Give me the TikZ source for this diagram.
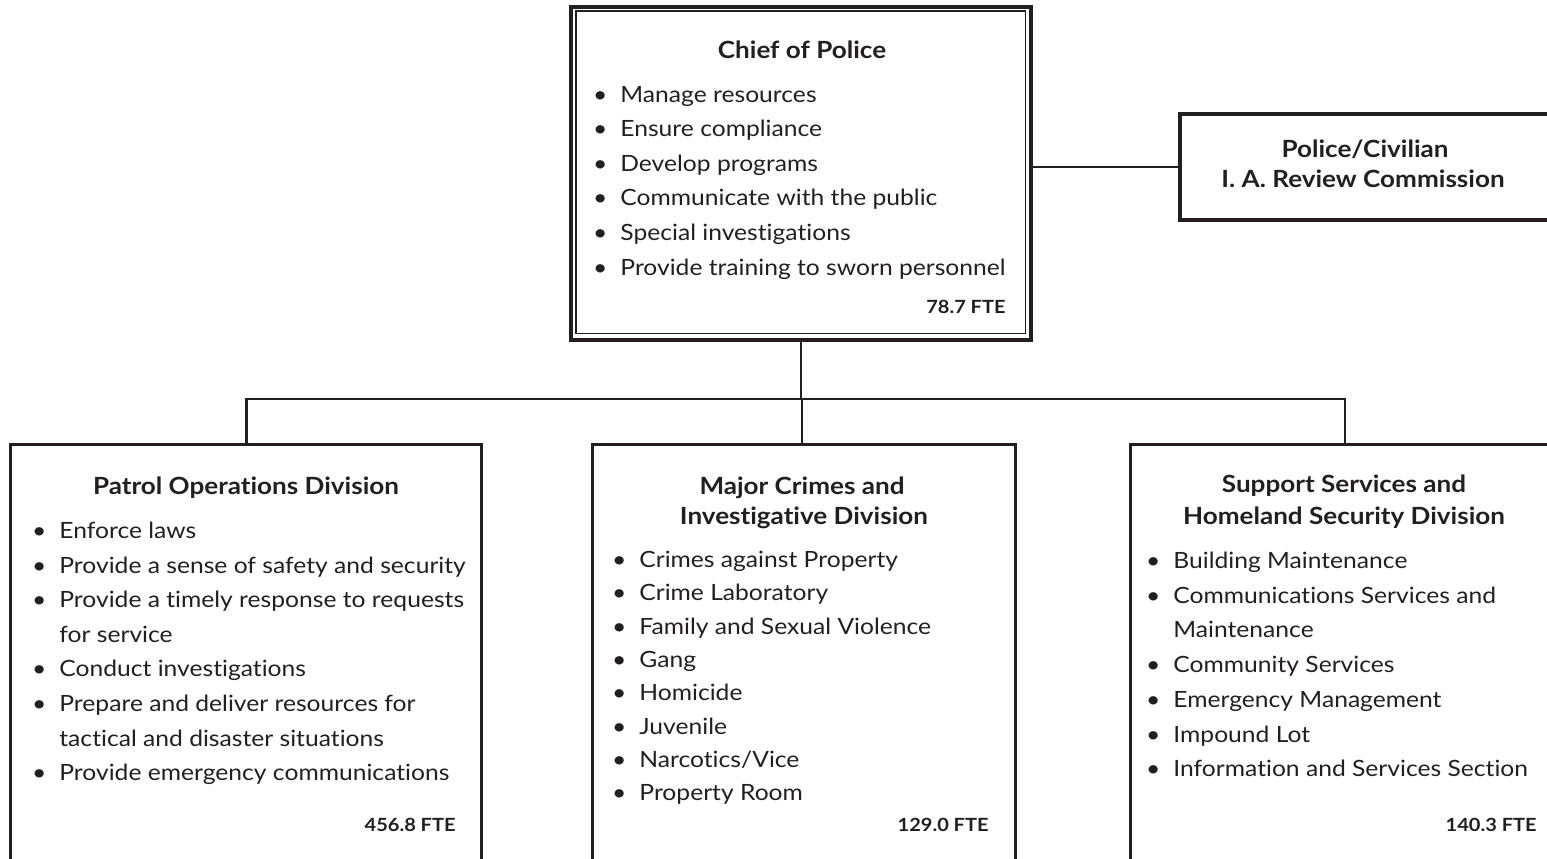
\documentclass[tikz,border=0pt]{standalone}
\usepackage{fontspec}
\setmainfont{Lato}[FakeStretch=1.1,Ligatures=NoCommon]
\definecolor{ink}{RGB}{35,31,32}
\newcommand\bul{\llap{\textbullet\hspace{6.5pt}}}
\newcommand\bodylines[5]{%
  \foreach \txt [count=\i] in {#5}{%
    \node[body,anchor=base west] (#1-\i) at (#2,{#3+#4*(\i-1)}) {\txt};}}
\begin{document}
\begin{tikzpicture}[x=0.5pt,y=-0.5pt,
  body/.style={font=\fontsize{11.2}{13}\selectfont,inner sep=0pt,text=ink},
  ttl/.style={font=\fontsize{11.85}{13}\selectfont\bfseries,inner sep=0pt,text=ink,anchor=base},
  fte/.style={font=\fontsize{9.1}{11}\selectfont\bfseries,inner sep=0pt,text=ink,anchor=base east},
  frame/.style={draw=ink,inner sep=0pt,outer sep=0pt,anchor=north west},
  chiefbox/.style={frame,line width=2pt},
  commbox/.style={frame,line width=2pt},
  divbox/.style={frame,line width=1.5pt},
  conn/.style={draw=ink,line width=1.3pt}]
\clip (0,0) rectangle (1547,858);
% ---- boxes
\node[chiefbox,minimum width=230pt,minimum height=166.25pt] (chief) at (571,7) {};
\draw[ink,line width=0.75pt] ([shift={(5,4)}]chief.north west) rectangle ([shift={(-5.3,-5.8)}]chief.south east);
\node[commbox,minimum width=210pt,minimum height=53.15pt] (comm) at (1179.5,113.7) {};
\node[divbox,minimum width=235.5pt,minimum height=228pt] (pod) at (10.7,444) {};
\node[divbox,minimum width=211.15pt,minimum height=228pt] (mcid) at (592.7,444) {};
\node[divbox,minimum width=215pt,minimum height=228pt] (sss) at (1130,444) {};
% ---- connectors
\coordinate (bus) at (802,399);
\draw[conn] (comm.west) -- (comm.west -| chief.east);
\draw[conn] (chief.south) -- (chief.south |- bus);
\draw[conn] (pod.north) -- (pod.north |- bus) -- (sss.north |- bus) -- (sss.north);
\draw[conn] (bus) -- (bus |- mcid.north);
% ---- chief text
\node[ttl] (chief-t) at (802,58) {Chief of Police};
\bodylines{chief}{620}{102}{34.6}{\bul Manage resources,\bul Ensure compliance,\bul Develop programs,\bul Communicate with the public,\bul Special investigations,\bul Provide training to sworn personnel}
\node[fte] (chief-f) at (1006,313) {78.7 FTE};
% ---- commission text
\node[ttl] (comm-t1) at (1365,157) {Police/Civilian};
\node[ttl] (comm-t2) at (1363,187) {I. A. Review Commission};
% ---- patrol
\node[ttl] (pod-t) at (246,494) {Patrol Operations Division};
\bodylines{pod}{59}{538.5}{34.6}{\bul Enforce laws,\bul Provide a sense of safety and security,\bul Provide a timely response to requests,for service,\bul Conduct investigations,\bul Prepare and deliver resources for,tactical and disaster situations,\bul Provide emergency communications}
\node[fte] (pod-f) at (456,831) {456.8 FTE};
% ---- major crimes
\node[ttl] (mcid-t1) at (802,494) {Major Crimes and};
\node[ttl] (mcid-t2) at (804,524.5) {Investigative Division};
\bodylines{mcid}{639}{567.5}{33.3}{\bul Crimes against Property,\bul Crime Laboratory,\bul Family and Sexual Violence,\bul Gang,\bul Homicide,\bul Juvenile,\bul Narcotics/Vice,\bul Property Room}
\node[fte] (mcid-f) at (989,831) {129.0 FTE};
% ---- support
\node[ttl] (sss-t1) at (1344,492.5) {Support Services and};
\node[ttl] (sss-t2) at (1344,524.5) {Homeland Security Division};
\bodylines{sss}{1173}{568.5}{34.7}{\bul Building Maintenance,\bul Communications Services and,Maintenance,\bul Community Services,\bul Emergency Management,\bul Impound Lot,\bul Information and Services Section}
\node[fte] (sss-f) at (1537,831) {140.3 FTE};
\end{tikzpicture}
\end{document}
